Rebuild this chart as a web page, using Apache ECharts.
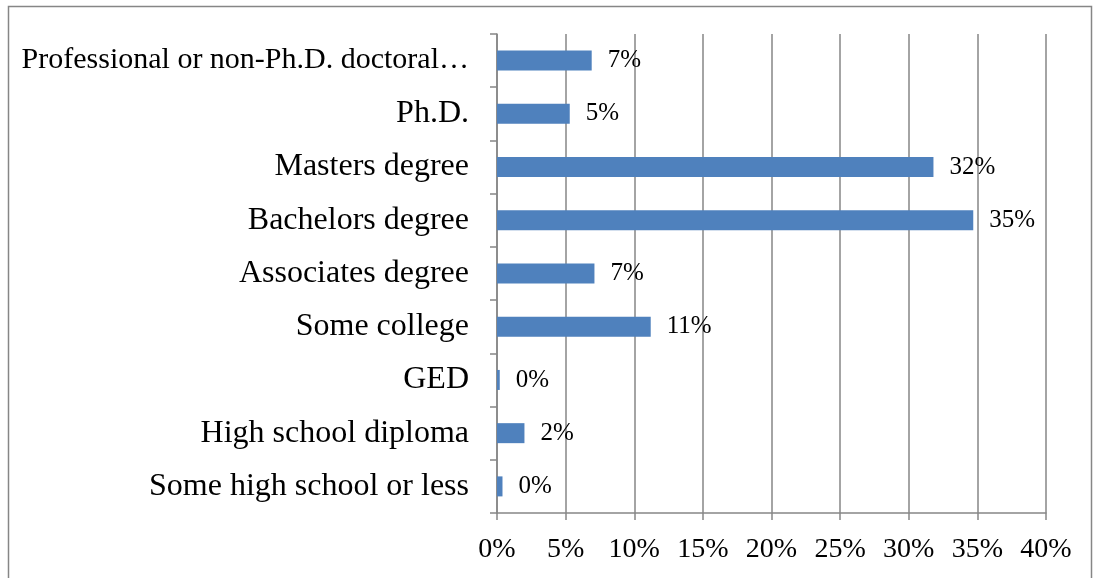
<!DOCTYPE html>
<html>
<meta charset="UTF-8">
<head>
    <title>Education level</title>
    <script src="https://cdn.jsdelivr.net/npm/echarts@6/dist/echarts.min.js"></script>
    <style>
        html, body { margin: 0; padding: 0; background: #fff; }
        #main { width: 1098px; height: 578px; }
    </style>
</head>
<body>
<div id="main"></div>
<script type="text/javascript">
    // categories bottom -> top (category axis draws first item at the bottom)
    var categories = [
        'Some high school or less',
        'High school diploma',
        'GED',
        'Some college',
        'Associates degree',
        'Bachelors degree',
        'Masters degree',
        'Ph.D.',
        'Professional or non-Ph.D. doctoral\u2026'
    ];
    var shares = [0.4, 2.0, 0.2, 11.2, 7.1, 34.7, 31.8, 5.3, 6.9];
    var xTicks = [0, 5, 10, 15, 20, 25, 30, 35, 40];

    var gray = '#868686';
    var serif = '"Liberation Serif", "Times New Roman", serif';

    var myChart = echarts.init(document.getElementById('main'));

    var option = {
        animation: false,
        textStyle: { fontFamily: serif },
        graphic: [{
            type: 'rect',
            shape: { x: 8.5, y: 6.5, width: 1083, height: 620 },
            style: { fill: 'none', stroke: gray, lineWidth: 1.5 },
            silent: true
        }],
        grid: { left: 497, right: 52, top: 34, bottom: 65 },
        xAxis: {
            type: 'value',
            min: xTicks[0],
            max: xTicks[xTicks.length - 1],
            interval: 5,
            axisLine: { show: true, lineStyle: { color: gray, width: 1.5 } },
            axisTick: { show: true, length: 7, lineStyle: { color: gray, width: 1.5 } },
            splitLine: { show: true, lineStyle: { color: gray, width: 1.5 } },
            axisLabel: {
                color: '#000', fontSize: 28, fontFamily: serif, margin: 23,
                formatter: function (v) { return v + '%'; }
            }
        },
        yAxis: {
            type: 'category',
            data: categories,
            axisLine: { show: true, lineStyle: { color: gray, width: 1.5 } },
            axisTick: { show: true, length: 7, lineStyle: { color: gray, width: 1.5 } },
            axisLabel: {
                color: '#000', fontSize: 32, fontFamily: serif, margin: 28,
                formatter: function (v, i) {
                    // the long truncated label is squeezed a bit in the original
                    return i === categories.length - 1 ? '{long|' + v + '}' : v;
                },
                rich: { long: { fontSize: 30, fontFamily: serif, color: '#000' } }
            }
        },
        series: [{
            type: 'bar',
            data: shares,
            barWidth: 20,
            itemStyle: { color: '#4F81BD' },
            label: {
                show: true,
                position: 'right',
                distance: 16,
                color: '#000',
                fontSize: 25,
                fontFamily: serif,
                formatter: function (p) { return Math.round(p.value) + '%'; }
            }
        }]
    };

    myChart.setOption(option);
</script>
</body>
</html>
